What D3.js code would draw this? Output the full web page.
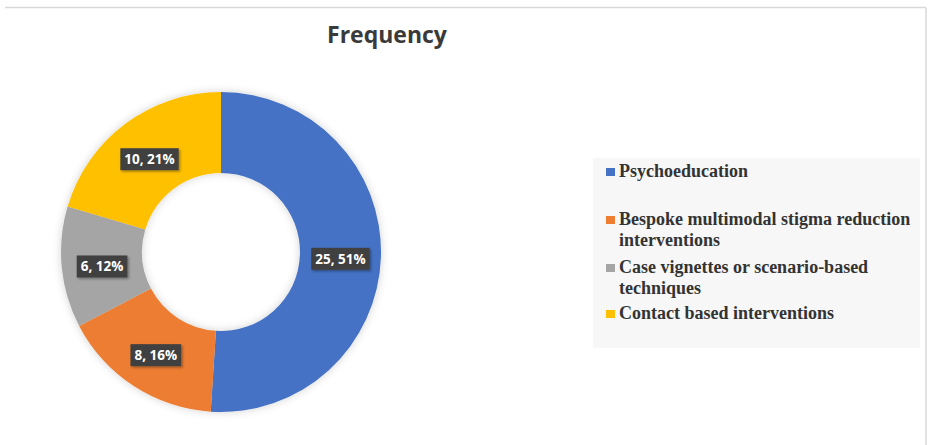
<!DOCTYPE html>
<html>
<head>
<meta charset="utf-8">
<script src="https://cdn.jsdelivr.net/npm/d3@7"></script>
<style>
  body { margin: 0; background: #ffffff; }
  svg { display: block; }
</style>
</head>
<body>
<div id="chart"></div>
<script>
// Data
var categories = ["Psychoeducation", "Bespoke multimodal stigma reduction interventions", "Case vignettes or scenario-based techniques", "Contact based interventions"];
var legendLines = [["Psychoeducation"], ["Bespoke multimodal stigma reduction", "interventions"], ["Case vignettes or scenario-based", "techniques"], ["Contact based interventions"]];
var values = [25, 8, 6, 10];
var percentLabels = ["51%", "16%", "12%", "21%"];
var colors = ["#4472C4", "#ED7D31", "#A5A5A5", "#FFC000"];

var width = 929, height = 445;
var cx = 221, cy = 252, outerR = 160, innerR = 79;

var svg = d3.select("#chart").append("svg")
	.attr("width", width)
	.attr("height", height);

var defs = svg.append("defs");
var shadow = defs.append("filter").attr("id", "shadow")
	.attr("x", "-20%").attr("y", "-20%").attr("width", "140%").attr("height", "140%");
shadow.append("feDropShadow")
	.attr("dx", 0).attr("dy", 0).attr("stdDeviation", 4)
	.attr("flood-color", "#000").attr("flood-opacity", 0.18);
var boxShadow = defs.append("filter").attr("id", "boxShadow")
	.attr("x", "-20%").attr("y", "-20%").attr("width", "150%").attr("height", "160%");
boxShadow.append("feDropShadow")
	.attr("dx", 1.5).attr("dy", 1.5).attr("stdDeviation", 1.2)
	.attr("flood-color", "#000").attr("flood-opacity", 0.35);

// Chart frame (top and right edges visible in reference)
svg.append("line")
	.attr("x1", 5).attr("x2", 926).attr("y1", 7.5).attr("y2", 7.5)
	.attr("stroke", "#d9d9d9").attr("stroke-width", 1.5);
svg.append("line")
	.attr("x1", 926).attr("x2", 926).attr("y1", 7.5).attr("y2", 445)
	.attr("stroke", "#d9d9d9").attr("stroke-width", 1.5);

// Title
svg.append("text")
	.attr("x", 387).attr("y", 43)
	.attr("text-anchor", "middle")
	.style("font-family", "'Open Sans', 'Noto Sans', sans-serif")
	.style("font-size", "23px")
	.style("font-weight", "700")
	.style("fill", "#3a3a3a")
	.text("Frequency");

// Donut
var pie = d3.pie().sort(null).value(function(d){ return d; });
var arc = d3.arc().innerRadius(innerR).outerRadius(outerR);
var arcs = pie(values);

var donut = svg.append("g")
	.attr("transform", "translate(" + cx + "," + cy + ")");

donut.append("g")
	.attr("filter", "url(#shadow)")
	.selectAll("path")
	.data(arcs)
	.enter().append("path")
	.attr("d", arc)
	.attr("fill", function(d, i){ return colors[i]; });

// Data labels
var labels = donut.selectAll("g.label")
	.data(arcs)
	.enter().append("g")
	.attr("class", "label")
	.attr("transform", function(d){
		var c = arc.centroid(d);
		return "translate(" + c[0] + "," + (c[1] + 3) + ")";
	});

labels.each(function(d, i){
	var g = d3.select(this);
	var rect = g.append("rect")
		.attr("fill", "#404040")
		.attr("filter", "url(#boxShadow)");
	var t = g.append("text")
		.attr("text-anchor", "middle")
		.attr("dy", "0.35em")
		.style("font-family", "'Open Sans', 'Noto Sans', sans-serif")
		.style("font-size", "13.5px")
		.style("font-weight", "700")
		.style("fill", "#ffffff")
		.text(values[i] + ", " + percentLabels[i]);
	var bb = t.node().getBBox();
	rect.attr("x", bb.x - 4).attr("y", -11)
		.attr("width", bb.width + 8).attr("height", 22);
});

// Legend
var legend = svg.append("g").attr("class", "legend-group");
legend.append("rect")
	.attr("x", 593).attr("y", 158)
	.attr("width", 327).attr("height", 190)
	.attr("fill", "#f7f7f7");

var legendY = [177, 225, 273, 319];
var lineGap = 20.5;

var items = legend.selectAll("g.item")
	.data(legendLines)
	.enter().append("g")
	.attr("class", "item")
	.attr("transform", function(d, i){ return "translate(606," + legendY[i] + ")"; });

items.append("rect")
	.attr("x", 0).attr("y", -9)
	.attr("width", 9).attr("height", 8)
	.attr("fill", function(d, i){ return colors[i]; });

items.append("text")
	.style("font-family", "'Liberation Serif', 'Times New Roman', serif")
	.style("font-size", "18px")
	.style("font-weight", "700")
	.style("fill", "#333333")
	.selectAll("tspan")
	.data(function(d){ return d; })
	.enter().append("tspan")
	.attr("x", 13)
	.attr("y", function(d, j){ return j * lineGap; })
	.text(function(d){ return d; });
</script>
</body>
</html>
